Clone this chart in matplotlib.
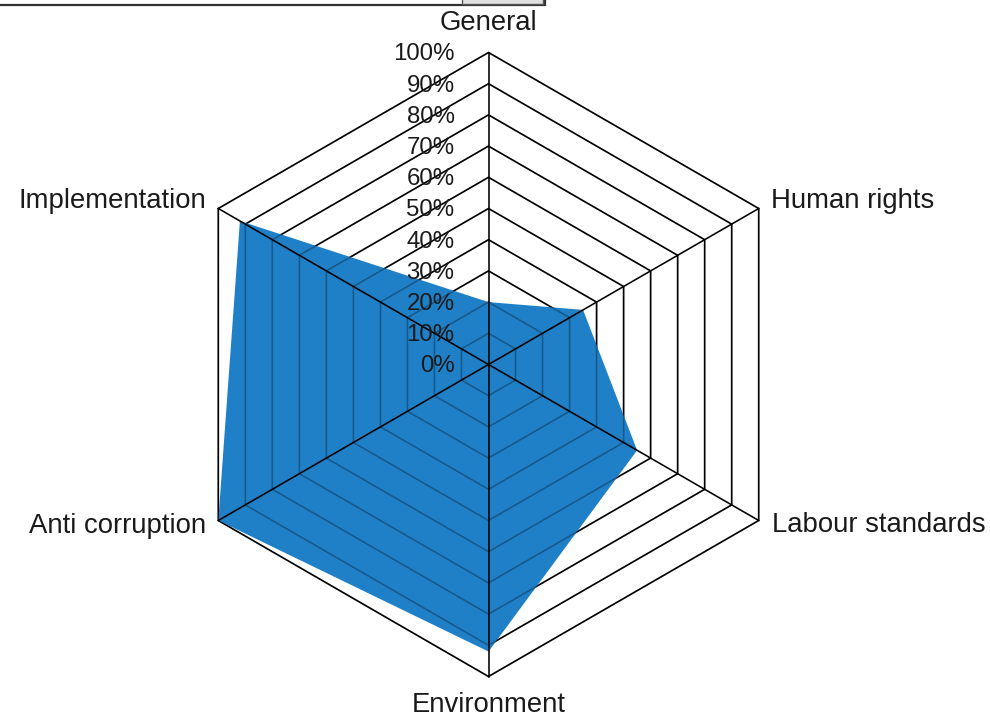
import numpy as np
import matplotlib
matplotlib.use("Agg")
import matplotlib.pyplot as plt
from matplotlib.patches import Polygon, Rectangle

categories = ["General", "Human rights", "Labour standards", "Environment",
              "Anti corruption", "Implementation"]
values = [20, 35, 55, 92, 100, 92]
tick_labels = ["0%", "10%", "20%", "30%", "40%", "50%", "60%", "70%", "80%", "90%", "100%"]
tick_values = [0, 10, 20, 30, 40, 50, 60, 70, 80, 90, 100]

W, H = 990, 718
cx, cy = 488.5, 364.5
R = 312.0  # pixels for 100%
scale = R / 100.0

fig = plt.figure(figsize=(W / 100, H / 100), dpi=100)
ax = fig.add_axes([0, 0, 1, 1])
ax.set_xlim(-cx / scale, (W - cx) / scale)
ax.set_ylim(-(H - cy) / scale, cy / scale)
ax.axis("off")

n = len(categories)
angles = np.pi / 2 - np.arange(n) * 2 * np.pi / n

def pts(r):
    return np.column_stack([r * np.cos(angles), r * np.sin(angles)])

font = ["Liberation Sans", "DejaVu Sans"]
tc = "#1a1a1a"
lw = 1.15

# rings (under fill)
for t in tick_values[1:]:
    ax.add_patch(Polygon(pts(t), closed=True, fill=False, edgecolor="black", lw=lw, zorder=1))

# data fill
vals = np.array(values, dtype=float)
dp = np.column_stack([vals * np.cos(angles), vals * np.sin(angles)])
ax.add_patch(Polygon(dp, closed=True, facecolor="#1f80c8", edgecolor="none", zorder=2))

# rings over fill (darkening)
for t in tick_values[1:]:
    ax.add_patch(Polygon(pts(t), closed=True, fill=False, edgecolor=(0, 0, 0, 0.3), lw=lw, zorder=3))

# spokes
for a in angles:
    ax.plot([0, 100 * np.cos(a)], [0, 100 * np.sin(a)], color="black", lw=lw, zorder=4)

# tick labels
for t, lab in zip(tick_values, tick_labels):
    ax.text(-34 / scale, t - 0.6, lab, ha="right", va="center", fontsize=17.3,
            family=font, color=tc, zorder=5)

# category labels: (dx, dy) pixel offsets from the vertex, alignment
label_layout = [
    (0, 17, "center", "bottom"),
    (12, 8, "left", "center"),
    (13, -5, "left", "center"),
    (0, -16, "center", "top"),
    (-12, -5, "right", "center"),
    (-12, 8, "right", "center"),
]
for a, lab, (dx, dy, ha, va) in zip(angles, categories, label_layout):
    x = 100 * np.cos(a) + dx / scale
    y = 100 * np.sin(a) + dy / scale
    ax.text(x, y, lab, ha=ha, va=va, fontsize=19.8, family=font, color=tc, zorder=5)

# clipped combobox at top
def px(x, y):
    return ((x - cx) / scale, (cy - y) / scale)

x0, y0 = px(-2, -20)
x1, y1 = px(545, 5)
ax.add_patch(Rectangle((x0, y1), x1 - x0, y0 - y1, fill=False, edgecolor="#333333", lw=1.6, zorder=6))
bx0, by0 = px(462, -20)
bx1, by1 = px(543, 4)
ax.add_patch(Rectangle((bx0, by1), bx1 - bx0, by0 - by1, facecolor="#e0e0e0", edgecolor="#555555", lw=1.0, zorder=6))

fig.savefig("out.png", dpi=100)
